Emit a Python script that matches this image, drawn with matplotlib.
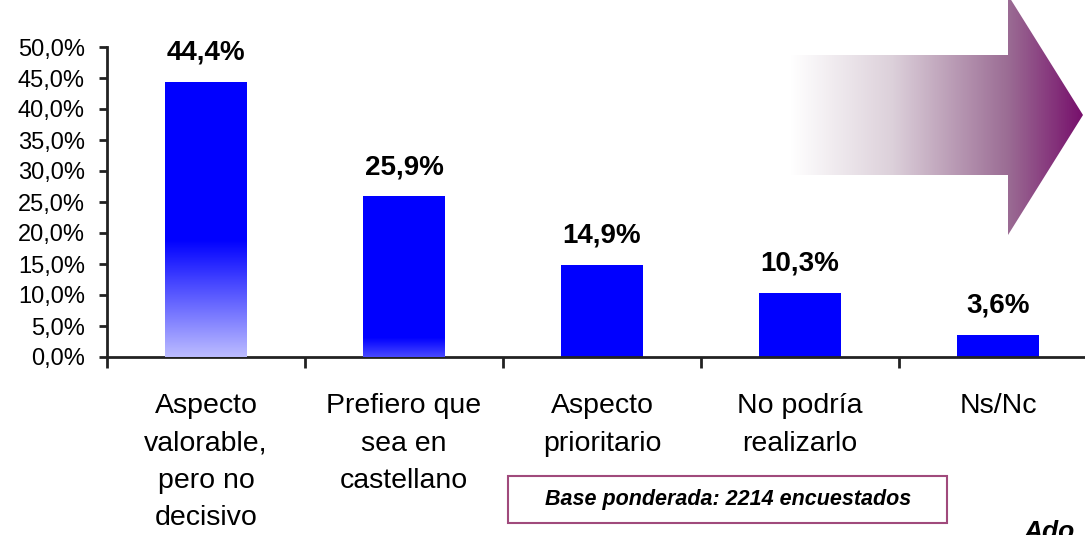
import numpy as np
import matplotlib
matplotlib.use("Agg")
import matplotlib.pyplot as plt
from matplotlib.patches import Polygon, Rectangle
from matplotlib.colors import LinearSegmentedColormap

plt.rcParams['font.family'] = ['Liberation Sans', 'DejaVu Sans']

categories = ["Aspecto\nvalorable,\npero no\ndecisivo",
              "Prefiero que\nsea en\ncastellano",
              "Aspecto\nprioritario",
              "No podría\nrealizarlo",
              "Ns/Nc"]
values = [44.4, 25.9, 14.9, 10.3, 3.6]
value_labels = ["44,4%", "25,9%", "14,9%", "10,3%", "3,6%"]
# gradient at the foot of some bars: (top of fade in %, bottom colour)
fades = [(18.9, "#bcbcff"), (3.1, "#4848ff"), None, None, None]
yticks = [0, 5, 10, 15, 20, 25, 30, 35, 40, 45, 50]
note = "Base ponderada: 2214 encuestados"

W, H = 1085, 535
fig = plt.figure(figsize=(W / 100, H / 100), dpi=100)

ax = fig.add_axes([107 / W, 1 - 357 / H, 990 / W, 310 / H])
x = np.arange(len(values))
bw = 0.414
bars = ax.bar(x, values, width=bw, color="#0000ff", zorder=2)

for b, v, f in zip(bars, values, fades):
    if f is None:
        continue
    top, c0 = f
    cmap = LinearSegmentedColormap.from_list("fade", [c0, "#0000ff"])
    ys = np.linspace(0, v, 300)
    t = np.clip(ys / top, 0, 1)[:, None]
    im = ax.imshow(t, cmap=cmap, vmin=0, vmax=1, aspect="auto", origin="lower",
                   extent=(b.get_x(), b.get_x() + bw, 0, v), zorder=3,
                   interpolation="bilinear")
    im.set_clip_path(b)

for xi, v, lab in zip(x, values, value_labels):
    ax.annotate(lab, (xi, v), xytext=(0, 16), textcoords="offset points",
                ha="center", va="baseline", fontsize=20, fontweight="bold")

ax.set_xlim(-0.5, len(values) - 0.5)
ax.set_ylim(0, 50)
ax.set_yticks(yticks)
ax.set_yticklabels([f"{v:.1f}%".replace(".", ",") for v in yticks], fontsize=17)
ax.set_xticks(x)
ax.set_xticklabels(categories, fontsize=20.5, linespacing=1.57)
ax.set_xticks(np.arange(len(values) + 1) - 0.5, minor=True)
ax.tick_params(axis="x", which="major", length=0, pad=26)
ax.tick_params(axis="x", which="minor", length=8, width=2, color="#222222", direction="out")
ax.tick_params(axis="y", length=6, width=2, color="#222222", pad=10)
for s in ["top", "right"]:
    ax.spines[s].set_visible(False)
for s in ["left", "bottom"]:
    ax.spines[s].set_linewidth(2)
    ax.spines[s].set_color("#222222")
ax.set_facecolor("none")

# overlay in pixel coordinates for the arrow and the note box
ov = fig.add_axes([0, 0, 1, 1], zorder=5)
ov.axis("off")
ov.patch.set_alpha(0)

arrow = Polygon([(790, 55), (1008, 55), (1008, -5), (1083, 115),
                 (1008, 235), (1008, 175), (790, 175)],
                closed=True, facecolor="none", edgecolor="none")
ov.add_patch(arrow)
acmap = LinearSegmentedColormap.from_list(
    "arr", [(0, "#ffffff"), (0.35, "#dcd0da"), (0.75, "#9a6b93"), (1, "#77106c")])
grad = np.linspace(0, 1, 400)[None, :]
aim = ov.imshow(grad, cmap=acmap, aspect="auto", extent=(790, 1083, 235, -5),
                interpolation="bilinear")
aim.set_clip_path(arrow)
ov.set_xlim(0, W)
ov.set_ylim(H, 0)

ov.add_patch(Rectangle((508, 476), 439, 47, facecolor="white",
                       edgecolor="#a04a7c", linewidth=1.5))
ov.text(728, 500, note, ha="center", va="center", fontsize=15.5,
        fontweight="bold", fontstyle="italic")
ov.text(1024, 520, "Ado", ha="left", va="top", fontsize=19,
        fontweight="bold", fontstyle="italic")

fig.savefig("out.png", dpi=100)
